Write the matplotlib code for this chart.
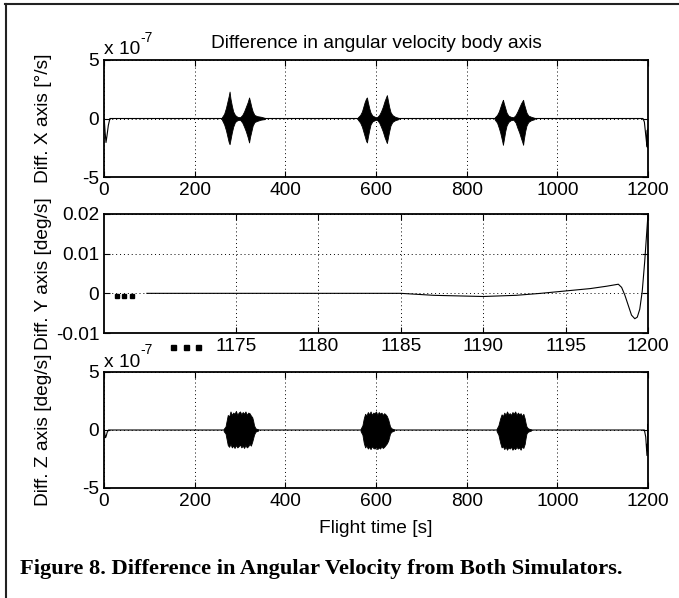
import matplotlib
matplotlib.use('Agg')
import matplotlib.pyplot as plt
from matplotlib.lines import Line2D
import matplotlib.transforms as mtransforms

plt.rcParams['font.family'] = ['Liberation Sans', 'DejaVu Sans']
plt.rcParams['axes.unicode_minus'] = False

FS = 13.8

# --- X axis panel (values in units of 1e-7 deg/s) ---
x_trace_t = [0, 1, 2.5, 4.4, 6.5, 9.5, 13, 1189, 1192, 1195, 1197.7, 1198.4, 1198.8, 1199.2, 1199.6, 1200]
x_trace_v = [0, -0.3, -1.2, -2.05, -1.5, -0.6, 0, 0, -0.3, -1.4, -2.4, -1.0, -2.5, -0.9, -2.4, -1.2]

x_bursts = [
    ([260, 265, 269, 272, 275, 277, 279, 282, 285, 289, 294, 300],
     [0.1, 0.4, 0.9, 1.4, 1.9, 2.3, 1.7, 1.1, 0.6, 0.3, 0.15, 0.1],
     [-0.1, -0.5, -1.0, -1.5, -2.0, -2.2, -1.8, -1.2, -0.7, -0.3, -0.15, -0.1]),
    ([300, 305, 309, 313, 317, 320, 322, 325, 328, 332, 338, 346, 355],
     [0.1, 0.3, 0.6, 1.0, 1.4, 1.8, 1.5, 1.0, 0.6, 0.3, 0.2, 0.15, 0.05],
     [-0.1, -0.35, -0.7, -1.1, -1.6, -2.05, -1.6, -1.1, -0.6, -0.3, -0.2, -0.1, -0.05]),
    ([560, 565, 569, 572, 575, 578, 580, 582, 585, 588, 592, 597, 602],
     [0.1, 0.3, 0.6, 1.0, 1.4, 1.7, 1.8, 1.4, 0.9, 0.5, 0.25, 0.15, 0.1],
     [-0.1, -0.35, -0.7, -1.1, -1.5, -1.9, -2.05, -1.6, -1.0, -0.5, -0.25, -0.15, -0.1]),
    ([602, 607, 611, 615, 619, 622, 624, 626, 629, 632, 636, 642, 650],
     [0.1, 0.3, 0.6, 1.0, 1.5, 1.8, 2.0, 1.6, 1.0, 0.55, 0.3, 0.15, 0.05],
     [-0.1, -0.35, -0.7, -1.1, -1.6, -1.9, -2.1, -1.7, -1.1, -0.6, -0.3, -0.15, -0.05]),
    ([862, 867, 871, 874, 877, 879, 880, 882, 885, 888, 892, 897, 903],
     [0.1, 0.3, 0.6, 0.95, 1.3, 1.5, 1.6, 1.3, 0.9, 0.5, 0.25, 0.15, 0.1],
     [-0.1, -0.35, -0.8, -1.2, -1.7, -2.05, -2.25, -1.8, -1.1, -0.6, -0.3, -0.15, -0.1]),
    ([903, 908, 912, 916, 920, 923, 924.5, 926, 929, 932, 936, 942, 950],
     [0.1, 0.3, 0.6, 0.95, 1.3, 1.5, 1.6, 1.3, 0.9, 0.5, 0.25, 0.15, 0.05],
     [-0.1, -0.35, -0.8, -1.2, -1.7, -2.05, -2.25, -1.8, -1.1, -0.6, -0.3, -0.15, -0.05]),
]

# --- Y axis panel, zoom on the last seconds (deg/s) ---
y_t = [1169.6, 1185, 1187, 1190, 1192, 1193.5, 1195, 1196.5, 1197.5, 1198.2, 1198.4, 1198.6,
       1198.8, 1199.0, 1199.2, 1199.35, 1199.5, 1199.65, 1199.8, 1199.9, 1200]
y_v = [0, 0, -0.0005, -0.0008, -0.0005, 0, 0.0006, 0.0012, 0.0018, 0.0023, 0.0015, -0.0005,
       -0.003, -0.0055, -0.0064, -0.006, -0.004, 0.0005, 0.008, 0.014, 0.02]
y_dots_t = [1167.79, 1168.23, 1168.70]
y_dots_v = [-0.0007, -0.0007, -0.0007]
y_break_t = [1171.2, 1171.95, 1172.7]

# --- Z axis panel (units of 1e-7 deg/s) ---
z_trace_t = [0, 1, 2, 3.5, 5, 7, 10, 1192, 1195, 1197.7, 1198.5, 1199, 1199.4, 1199.8, 1200]
z_trace_v = [0, -0.1, -0.4, -0.66, -0.5, -0.2, 0, 0, -0.6, -2.2, -1.2, -1.8, 0.5, -1.8, 0.3]

z_bursts = [
    ([264, 268, 271, 273, 276, 279, 282, 285, 288, 291, 294, 297, 300, 303, 306, 309, 312, 315,
      318, 321, 324, 327, 329, 331, 334, 340],
     [0.1, 0.3, 0.9, 1.3, 1.15, 1.6, 1.3, 1.5, 1.4, 1.65, 1.3, 1.5, 1.6, 1.35, 1.55, 1.4, 1.6, 1.3,
      1.5, 1.45, 1.25, 1.1, 0.8, 0.4, 0.15, 0.05],
     [-0.1, -0.3, -0.9, -1.3, -1.45, -1.2, -1.5, -1.35, -1.55, -1.3, -1.5, -1.4, -1.25, -1.5, -1.35,
      -1.55, -1.3, -1.5, -1.4, -1.2, -1.35, -1.0, -0.7, -0.4, -0.15, -0.05]),
    ([566, 570, 573, 576, 579, 582, 585, 588, 591, 594, 597, 600, 603, 606, 609, 612, 615, 618,
      621, 624, 627, 629, 631, 634, 640],
     [0.1, 0.4, 1.0, 1.4, 1.25, 1.55, 1.35, 1.6, 1.3, 1.5, 1.45, 1.6, 1.3, 1.55, 1.4, 1.5, 1.3, 1.45,
      1.35, 1.2, 0.9, 0.6, 0.3, 0.15, 0.05],
     [-0.1, -0.4, -1.1, -1.5, -1.35, -1.6, -1.45, -1.65, -1.4, -1.55, -1.6, -1.45, -1.65, -1.5, -1.6,
      -1.4, -1.55, -1.45, -1.3, -1.15, -0.9, -0.6, -0.3, -0.15, -0.05]),
    ([866, 870, 874, 877, 880, 883, 886, 889, 892, 895, 898, 901, 904, 907, 910, 913, 916, 919,
      922, 925, 928, 930, 932, 935, 942],
     [0.1, 0.4, 1.0, 1.35, 1.2, 1.5, 1.3, 1.6, 1.35, 1.45, 1.3, 1.55, 1.4, 1.6, 1.3, 1.5, 1.35, 1.45,
      1.2, 1.4, 1.0, 0.6, 0.3, 0.15, 0.05],
     [-0.1, -0.4, -1.1, -1.5, -1.4, -1.65, -1.45, -1.7, -1.5, -1.6, -1.45, -1.7, -1.55, -1.65, -1.45,
      -1.6, -1.5, -1.7, -1.4, -1.55, -1.2, -0.7, -0.3, -0.15, -0.05]),
]

long_ticks = [0, 200, 400, 600, 800, 1000, 1200]
small_yticks = [-5, 0, 5]
zoom_ticks = [1175, 1180, 1185, 1190, 1195, 1200]
zoom_yticks = [-0.01, 0, 0.01, 0.02]

W, H = 679, 598
fig = plt.figure(figsize=(W / 100, H / 100), dpi=100)


def px_axes(top, bottom, left=104, right=648):
    return fig.add_axes([left / W, 1 - bottom / H, (right - left) / W, (bottom - top) / H])


def style(ax):
    ax.tick_params(direction='in', top=True, right=True, length=4, width=0.8,
                   labelsize=FS, pad=3.5, colors='black')
    for s in ax.spines.values():
        s.set_linewidth(1.3)
    ax.grid(True, linestyle=(0, (1, 3)), color='black', linewidth=0.7)
    ax.set_axisbelow(True)


def exponent_label(ax, gap_px):
    # MATLAB-style "x 10^-7" above the top left corner
    h = ax.get_position().height * H
    base = ax.text(0, 1 + gap_px / h, 'x 10', transform=ax.transAxes, fontsize=FS,
                   ha='left', va='baseline')
    ax.annotate('-7', xy=(1.0, 0.78), xycoords=base, fontsize=FS * 0.72,
                ha='left', va='bottom')


ax1 = px_axes(60, 177)
ax2 = px_axes(214, 333)
ax3 = px_axes(372, 488)

# top panel
ax1.plot(x_trace_t, x_trace_v, color='black', lw=0.8)
for t, up, lo in x_bursts:
    ax1.fill_between(t, lo, up, color='black', lw=0.6)
ax1.set_xlim(0, 1200)
ax1.set_ylim(-5, 5)
ax1.set_xticks(long_ticks)
ax1.set_yticks(small_yticks)
style(ax1)
exponent_label(ax1, 5.7)
ax1.text(0.5, 1 + 12.3 / 117, 'Difference in angular velocity body axis',
         transform=ax1.transAxes, fontsize=FS, ha='center', va='baseline')
ax1.set_ylabel('Diff. X axis [°/s]', fontsize=FS, va='center')
ax1.yaxis.set_label_coords(-0.1112, 0.5)

# middle panel
ax2.plot(y_t, y_v, color='black', lw=0.8)
ax2.plot(y_dots_t, y_dots_v, ls='none', marker='s', ms=3.2, color='black')
trans = mtransforms.blended_transform_factory(ax2.transData, ax2.transAxes)
ax2.plot(y_break_t, [-14 / 119] * 3, ls='none', marker='s', ms=3.6, color='black',
         transform=trans, clip_on=False)
ax2.set_xlim(1167, 1200)
ax2.set_ylim(-0.01, 0.02)
ax2.set_xticks(zoom_ticks)
ax2.set_yticks(zoom_yticks)
ax2.set_yticklabels(['-0.01', '0', '0.01', '0.02'])
style(ax2)
ax2.set_ylabel('Diff. Y axis [deg/s]', fontsize=FS, va='center')
ax2.yaxis.set_label_coords(-0.1112, 0.5)

# bottom panel
ax3.plot(z_trace_t, z_trace_v, color='black', lw=0.8)
for t, up, lo in z_bursts:
    ax3.fill_between(t, lo, up, color='black', lw=0.6)
ax3.set_xlim(0, 1200)
ax3.set_ylim(-5, 5)
ax3.set_xticks(long_ticks)
ax3.set_yticks(small_yticks)
style(ax3)
exponent_label(ax3, 5.5)
ax3.set_ylabel('Diff. Z axis [deg/s]', fontsize=FS, va='center')
ax3.yaxis.set_label_coords(-0.1112, 0.5)
ax3.set_xlabel('Flight time [s]', fontsize=FS, va='baseline')
ax3.xaxis.set_label_coords(0.5, -45 / 116)

# caption and page frame
fig.text(20 / W, 1 - 574 / H, 'Figure 8. Difference in Angular Velocity from Both Simulators.',
         fontfamily='Liberation Serif', fontweight='bold', fontsize=16.2, va='baseline')
fig.add_artist(Line2D([5 / W, 1], [1 - 4 / H, 1 - 4 / H], color='#222222', lw=1.5))
fig.add_artist(Line2D([5.5 / W, 5.5 / W], [0, 1 - 4 / H], color='#222222', lw=1.5))

fig.savefig('out.png', dpi=100)
